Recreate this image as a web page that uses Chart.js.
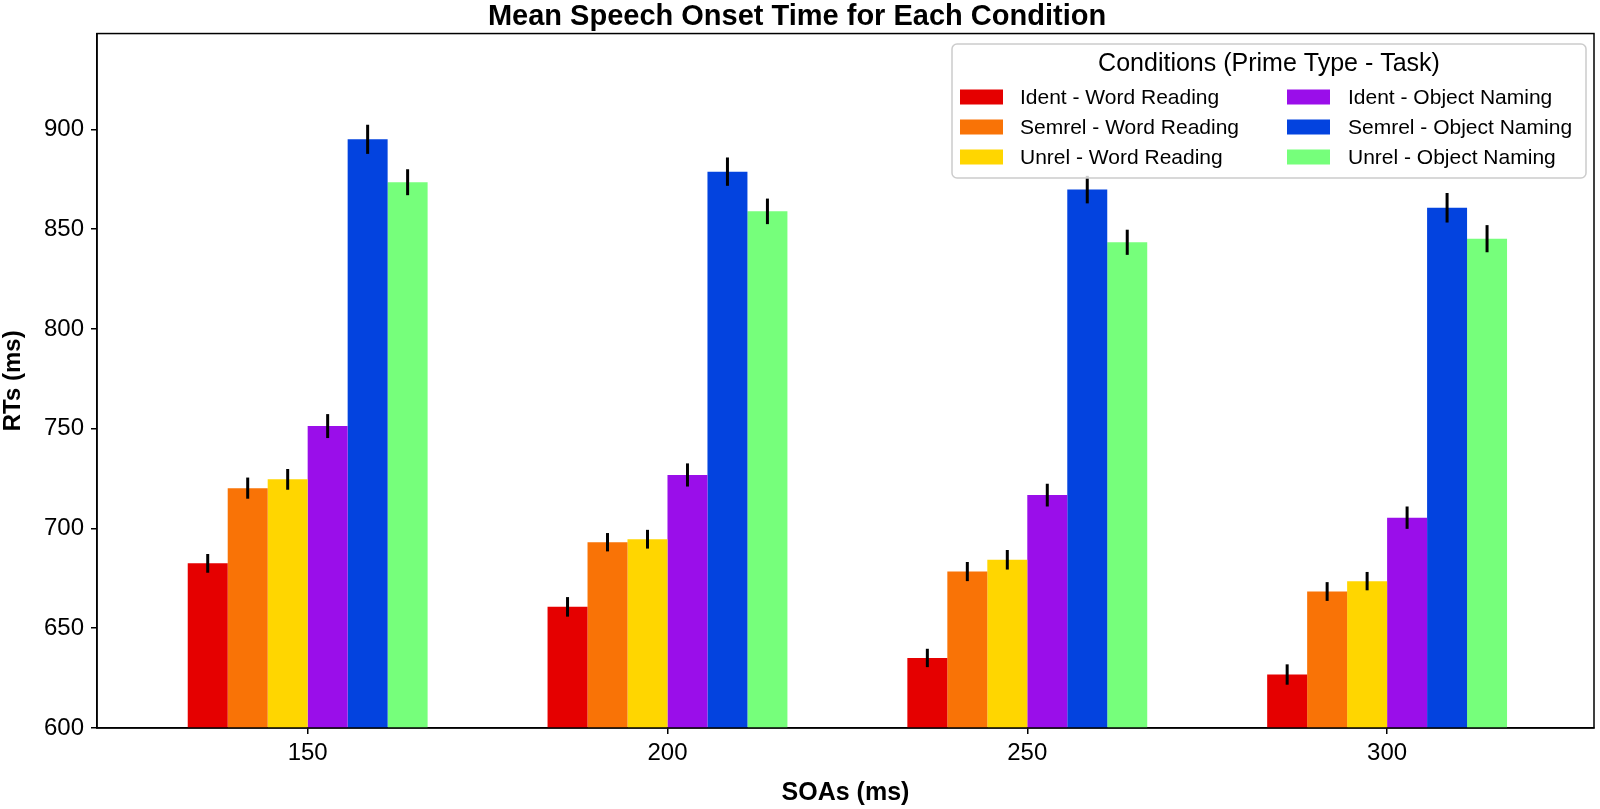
<!DOCTYPE html>
<html>
<head>
<meta charset="utf-8">
<script src="https://cdn.jsdelivr.net/npm/chart.js@4.4.1/dist/chart.umd.min.js"></script>
<style>
  html, body { margin: 0; padding: 0; background: #fff; }
  canvas { display: block; }
</style>
</head>
<body>
<canvas id="chart" width="1600" height="809"></canvas>
<script>
const soaLabels = ['150', '200', '250', '300'];
const soaIndex = [0, 1, 2, 3];

const conditionLabels = [
    'Ident - Word Reading',
    'Semrel - Word Reading',
    'Unrel - Word Reading',
    'Ident - Object Naming',
    'Semrel - Object Naming',
    'Unrel - Object Naming'
];
const conditionColors = ['#e50000', '#f97306', '#ffd600', '#9a0eea', '#0343df', '#76ff7b'];

// mean RTs (ms) per SOA
const identWord    = [682.5, 660.7, 635.1, 626.8];
const semrelWord   = [720.2, 693.1, 678.4, 668.4];
const unrelWord    = [724.6, 694.6, 684.3, 673.6];
const identObject  = [751.3, 726.8, 716.7, 705.4];
const semrelObject = [895.0, 878.8, 869.8, 860.7];
const unrelObject  = [873.5, 858.9, 843.4, 845.2];

// error bar half-lengths (ms)
const identWordErr    = [4.7, 4.9, 4.6, 5.1];
const semrelWordErr   = [5.3, 4.6, 4.8, 4.7];
const unrelWordErr    = [5.2, 4.7, 4.9, 4.6];
const identObjectErr  = [6.0, 5.8, 5.7, 5.6];
const semrelObjectErr = [7.3, 7.1, 6.9, 7.4];
const unrelObjectErr  = [6.5, 6.4, 6.3, 6.8];

const yTicks = [600, 650, 700, 750, 800, 850, 900];

const means = [identWord, semrelWord, unrelWord, identObject, semrelObject, unrelObject];
const errs  = [identWordErr, semrelWordErr, unrelWordErr, identObjectErr, semrelObjectErr, unrelObjectErr];

const FONT = '"Liberation Sans", Arial, Helvetica, sans-serif';

const errorBarPlugin = {
    id: 'errorBars',
    afterDatasetsDraw(chart) {
        const ctx = chart.ctx;
        const y = chart.scales.y;
        ctx.save();
        ctx.strokeStyle = '#000';
        ctx.lineWidth = 3;
        chart.data.datasets.forEach((ds, i) => {
            const meta = chart.getDatasetMeta(i);
            meta.data.forEach((bar, j) => {
                const v = ds.data[j].y;
                const e = ds.errors[j];
                ctx.beginPath();
                ctx.moveTo(bar.x, y.getPixelForValue(v - e));
                ctx.lineTo(bar.x, y.getPixelForValue(v + e));
                ctx.stroke();
            });
        });
        ctx.restore();
    }
};

const framePlugin = {
    id: 'frameAndLegend',
    afterDraw(chart) {
        const ctx = chart.ctx;
        const a = chart.chartArea;
        ctx.save();
        // spines
        ctx.strokeStyle = '#000';
        ctx.lineWidth = 1.5;
        ctx.strokeRect(a.left, a.top, a.right - a.left, a.bottom - a.top);

        // legend box
        const bx = 952, by = 44, bw = 634, bh = 134, r = 5;
        ctx.beginPath();
        ctx.roundRect(bx, by, bw, bh, r);
        ctx.fillStyle = 'rgba(255,255,255,0.8)';
        ctx.fill();
        ctx.strokeStyle = '#cccccc';
        ctx.lineWidth = 1.5;
        ctx.stroke();

        ctx.fillStyle = '#000';
        ctx.textBaseline = 'middle';
        ctx.textAlign = 'center';
        ctx.font = '25px ' + FONT;
        ctx.fillText('Conditions (Prime Type - Task)', bx + bw / 2, 64);

        const rows = [97, 127, 157];
        const swatchX = [960, 1287];
        const textX = [1020, 1348];
        ctx.textAlign = 'left';
        ctx.font = '21px ' + FONT;
        chart.data.datasets.forEach((ds, i) => {
            const col = Math.floor(i / 3);
            const row = i % 3;
            ctx.fillStyle = ds.backgroundColor;
            ctx.fillRect(swatchX[col], rows[row] - 7.5, 43, 15);
            ctx.fillStyle = '#000';
            ctx.fillText(ds.label, textX[col], rows[row] + 1);
        });
        ctx.restore();
    }
};

const datasets = conditionLabels.map((label, i) => ({
    label: label,
    data: soaIndex.map((x, j) => ({ x: x, y: means[i][j] })),
    errors: errs[i],
    backgroundColor: conditionColors[i],
    borderWidth: 0,
    categoryPercentage: 2 / 3,
    barPercentage: 1.0
}));

new Chart(document.getElementById('chart'), {
    type: 'bar',
    plugins: [errorBarPlugin, framePlugin],
    data: { datasets: datasets },
    options: {
        responsive: false,
        animation: false,
        devicePixelRatio: 1,
        layout: { padding: { left: 0, right: 6, top: 0, bottom: 0 } },
        plugins: {
            legend: { display: false },
            tooltip: { enabled: false },
            title: {
                display: true,
                text: 'Mean Speech Onset Time for Each Condition',
                color: '#000',
                font: { family: FONT, size: 29, weight: 'bold', lineHeight: 0.95 },
                padding: { top: 3, bottom: 3 }
            }
        },
        scales: {
            x: {
                type: 'linear',
                offset: false,
                min: -0.5855,
                max: 3.575,
                afterBuildTicks: (scale) => {
                    scale.ticks = soaIndex.map(v => ({ value: v }));
                },
                afterFit: (scale) => { scale.height = 81; },
                grid: { offset: false, drawOnChartArea: false, drawTicks: true, tickLength: 6, color: '#000', lineWidth: 1.5 },
                border: { display: true, color: '#000', width: 1.5 },
                ticks: {
                    color: '#000',
                    padding: 5,
                    maxRotation: 0,
                    font: { family: FONT, size: 24 },
                    callback: (value) => soaLabels[value]
                },
                title: {
                    display: true,
                    text: 'SOAs (ms)',
                    color: '#000',
                    font: { family: FONT, size: 25, weight: 'bold', lineHeight: 1.2 },
                    padding: { top: 0, bottom: 1 }
                }
            },
            y: {
                min: 600,
                max: 948,
                afterBuildTicks: (scale) => {
                    scale.ticks = yTicks.map(v => ({ value: v }));
                },
                afterFit: (scale) => { scale.width = 97; },
                grid: { drawOnChartArea: false, drawTicks: true, tickLength: 6, color: '#000', lineWidth: 1.5 },
                border: { display: true, color: '#000', width: 1.5 },
                ticks: {
                    color: '#000',
                    padding: 7,
                    font: { family: FONT, size: 24 }
                },
                title: {
                    display: true,
                    text: 'RTs (ms)',
                    color: '#000',
                    font: { family: FONT, size: 24, weight: 'bold', lineHeight: 1.0 },
                    padding: { top: 1, bottom: 0 }
                }
            }
        }
    }
});
</script>
</body>
</html>
